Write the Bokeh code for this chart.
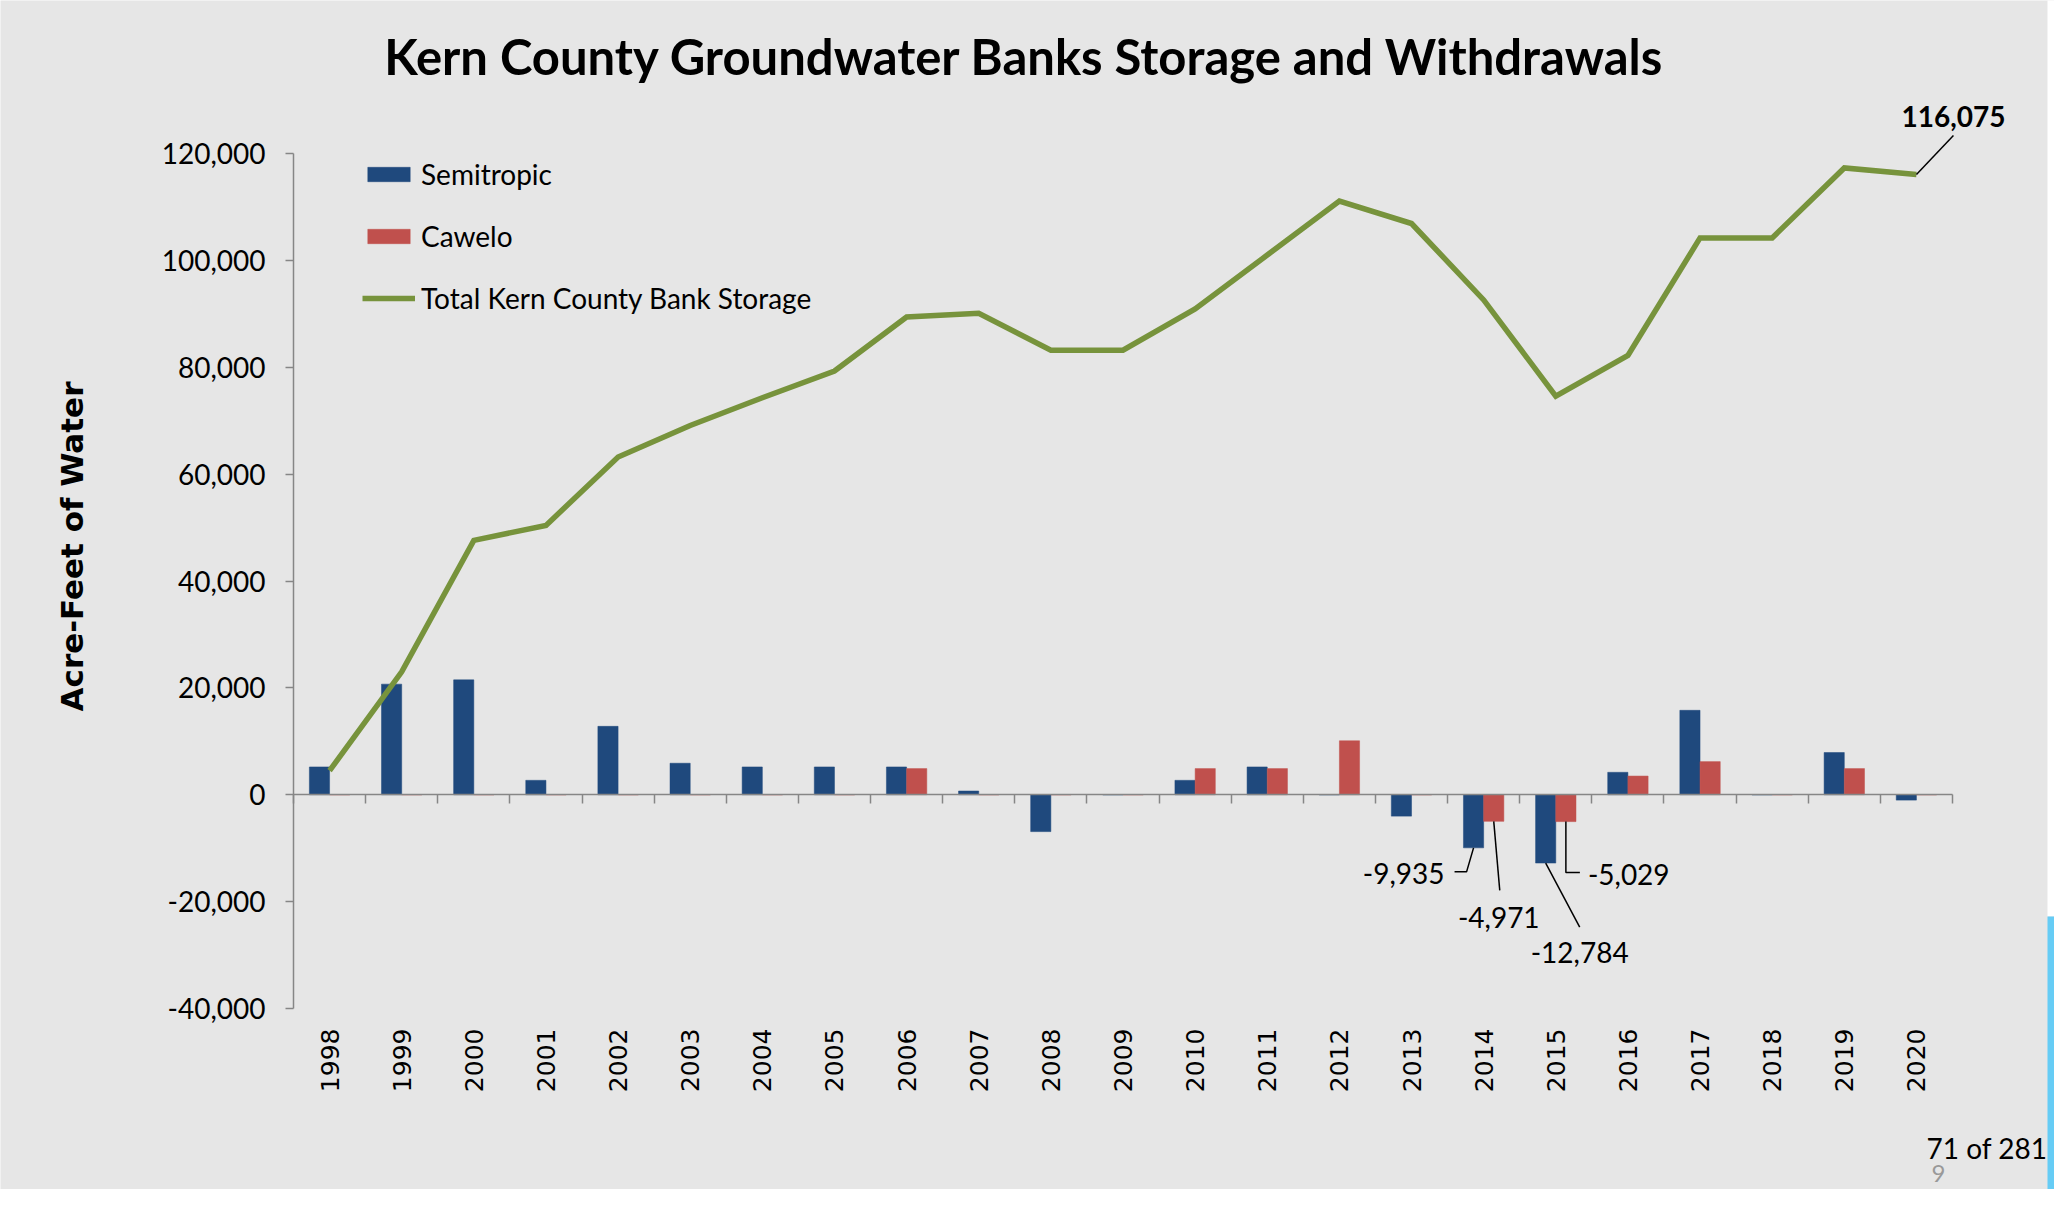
import math
from bokeh.plotting import figure
from bokeh.models import (Range1d, LinearAxis, FixedTicker, Legend, LegendItem, Label,
                          ColumnDataSource, NumeralTickFormatter)
from bokeh.core.properties import value
from bokeh.transform import dodge
from bokeh.embed import file_html
from bokeh.resources import INLINE

# ---------------- data ----------------
years = [str(y) for y in range(1998, 2021)]
semitropic = [5200, 20700, 21500, 2700, 12800, 5900, 5200, 5200, 5200, 700, -6900, 0,
              2700, 5200, 0, -4000, -9935, -12784, 4200, 15800, 0, 7900, -1000]
cawelo = [0, 0, 0, 0, 0, 0, 0, 0, 4900, 0, 0, 0,
          4900, 4900, 10100, 0, -4971, -5029, 3500, 6200, 0, 4900, 0]
total_storage = [4500, 23000, 47600, 50400, 63200, 69100, 74300, 79300, 89400, 90100, 83200, 83200,
                 90900, 101000, 111100, 106900, 92600, 74600, 82200, 104200, 104200, 117300, 116075]
y_ticks = [-40000, -20000, 0, 20000, 40000, 60000, 80000, 100000, 120000]
series_names = ["Semitropic", "Cawelo", "Total Kern County Bank Storage"]
title_text = "Kern County Groundwater Banks Storage and Withdrawals"
y_title = "Acre-Feet of Water"
page_text = "71 of 281"
slide_number = "9"

# ---------------- layout (page pixels) ----------------
W, H = 2054, 1189            # figure size; page margin 8px
FL, FT = 301, 161            # plot area left / top in page pixels
FW, FH = 1659, 855           # plot area size
Y0, Y1 = -40000, 120000
N = len(years)
XPX = N / FW
YPX = (Y1 - Y0) / FH

def dx(px):
    return px * XPX

def dy(px):            # px measured downward on screen
    return -px * YPX

def data_x(page_x):
    return (page_x - FL) * XPX

def data_y(page_y):
    return Y1 - (page_y - FT) * YPX

BG = "#E6E6E6"
C_SEMI = "#1F497D"
C_CAW = "#C0504D"
C_TOT = "#77933C"
AXIS_C = "#868686"
FONT = "Lato"

p = figure(width=W, height=H, output_backend="svg", toolbar_location=None, title=None,
           x_range=Range1d(data_x(8), data_x(8 + W)),
           y_range=Range1d(data_y(8 + H), data_y(8)),
           x_axis_location=None, y_axis_location=None, min_border=0)
p.background_fill_color = BG
p.border_fill_color = BG
p.outline_line_color = None
p.grid.visible = False

# slide edge decorations (white margin at top right, blue strip at bottom right)
p.quad(left=[data_x(2055), data_x(2055)], right=[data_x(2064), data_x(2064)],
       bottom=[data_y(924), data_y(1200)], top=[data_y(6), data_y(924)],
       fill_color=["#FFFFFF", "#66CCF5"], line_color=None)

xc = [i + 0.5 for i in range(N)]
src = ColumnDataSource(dict(x=xc, semi=semitropic, caw=cawelo, tot=total_storage))

BW = 0.28
r_semi = p.vbar(x=dodge("x", -BW / 2), top="semi", bottom=0, width=BW, source=src,
                fill_color=C_SEMI, line_color=C_SEMI, line_width=0.5)
r_caw = p.vbar(x=dodge("x", BW / 2), top="caw", bottom=0, width=BW, source=src,
               fill_color=C_CAW, line_color=C_CAW, line_width=0.5)
r_tot = p.line(x="x", y="tot", source=src, line_color=C_TOT, line_width=5.5, line_join="miter")

# ---------------- axes ----------------
yax = LinearAxis(fixed_location=0, bounds=(Y0, Y1), ticker=FixedTicker(ticks=y_ticks),
                 formatter=NumeralTickFormatter(format="0,0"))
yax.axis_line_color = AXIS_C
yax.axis_line_width = 1.5
yax.major_tick_line_color = AXIS_C
yax.major_tick_line_width = 1.5
yax.major_tick_out = 8
yax.major_tick_in = 0
yax.minor_tick_line_color = None
yax.major_label_text_font = FONT
yax.major_label_text_font_size = "28px"
yax.major_label_text_color = "#000000"
yax.major_label_standoff = 20
p.add_layout(yax, "left")

xax = LinearAxis(fixed_location=Y0, ticker=FixedTicker(ticks=xc))
xax.major_label_overrides = {x: y for x, y in zip(xc, years)}
xax.major_label_orientation = math.pi / 2
xax.axis_line_color = None
xax.major_tick_line_color = None
xax.minor_tick_line_color = None
xax.major_tick_out = 0
xax.major_tick_in = 0
xax.major_label_standoff = 20
xax.major_label_text_font = "DejaVu Sans"
xax.major_label_text_font_size = "25px"
xax.major_label_text_color = "#000000"
p.add_layout(xax, "below")

zax = LinearAxis(fixed_location=0, bounds=(0, N), ticker=FixedTicker(ticks=list(range(N + 1))))
zax.axis_line_color = AXIS_C
zax.axis_line_width = 1.5
zax.major_tick_line_color = AXIS_C
zax.major_tick_line_width = 1.5
zax.major_tick_out = 9
zax.major_tick_in = 0
zax.minor_tick_line_color = None
zax.major_label_text_font_size = "0px"
zax.major_label_text_color = None
p.add_layout(zax, "below")

# y axis title
p.add_layout(Label(x=data_x(79), y=data_y(554), text=y_title, angle=math.pi / 2,
                   text_align="center", text_baseline="middle",
                   text_font="DejaVu Sans", text_font_style="bold", text_font_size="31px",
                   text_color="#000000"))

# ---------------- legend ----------------
legend = Legend(items=[LegendItem(label=series_names[0], renderers=[r_semi]),
                       LegendItem(label=series_names[1], renderers=[r_caw]),
                       LegendItem(label=series_names[2], renderers=[r_tot])],
                location=(362, 1197 - 323), orientation="vertical",
                glyph_width=53, glyph_height=18, label_height=34, spacing=28,
                label_standoff=6, padding=0, margin=0,
                border_line_color=None, background_fill_alpha=0,
                label_text_font=FONT, label_text_font_size="28px",
                label_text_color="#000000")
p.add_layout(legend)

# ---------------- data labels for negatives ----------------
neg = [
    (16 + 0.5 - BW / 2, semitropic[16], [(0, 0), (-7, 24), (-19, 24)], (-29, 26), "right"),
    (16 + 0.5 + BW / 2, cawelo[16], [(0, 0), (6, 69)], (5, 96), "center"),
    (17 + 0.5 - BW / 2, semitropic[17], [(0, 0), (34, 64)], (34, 89), "center"),
    (17 + 0.5 + BW / 2, cawelo[17], [(0, 0), (0, 51), (14, 51)], (22, 53), "left"),
]
lx, ly = [], []
tx, ty, tt, ta = [], [], [], []
for bx, bv, path, (ox, oy), al in neg:
    lx.append([bx + dx(px) for px, py in path])
    ly.append([bv + dy(py) for px, py in path])
    tx.append(bx + dx(ox))
    ty.append(bv + dy(oy))
    tt.append(f"{bv:,}")
    ta.append(al)
p.multi_line(xs=lx, ys=ly, line_color="#000000", line_width=1.5)
p.text(x=tx, y=ty, text=tt, text_align=ta, text_baseline="middle",
       text_font=value(FONT), text_font_size="28px", text_color="#000000")

# last total label
lastx, lasty = xc[-1], total_storage[-1]
p.segment(x0=[lastx], y0=[lasty], x1=[lastx + dx(37)], y1=[lasty + dy(-39)],
          line_color="#000000", line_width=1.5)
p.add_layout(Label(x=lastx + dx(37), y=lasty + dy(-58), text=f"{lasty:,}",
                   text_align="center", text_baseline="middle",
                   text_font=FONT, text_font_style="bold", text_font_size="28px",
                   text_color="#000000"))

# ---------------- title and page texts ----------------
p.add_layout(Label(x=data_x(1032), y=data_y(63), text=title_text, text_align="center",
                   text_baseline="middle", text_font=FONT, text_font_style="bold",
                   text_font_size="49px", text_color="#000000"))
p.add_layout(Label(x=data_x(2055), y=data_y(1155), text=page_text, text_align="right",
                   text_baseline="middle", text_font=FONT, text_font_size="28px",
                   text_color="#000000"))
p.add_layout(Label(x=data_x(1946), y=data_y(1181), text=slide_number, text_align="center",
                   text_baseline="middle", text_font=FONT, text_font_size="24px",
                   text_color="#999999"))

open("out.html", "w").write(file_html(p, INLINE))
